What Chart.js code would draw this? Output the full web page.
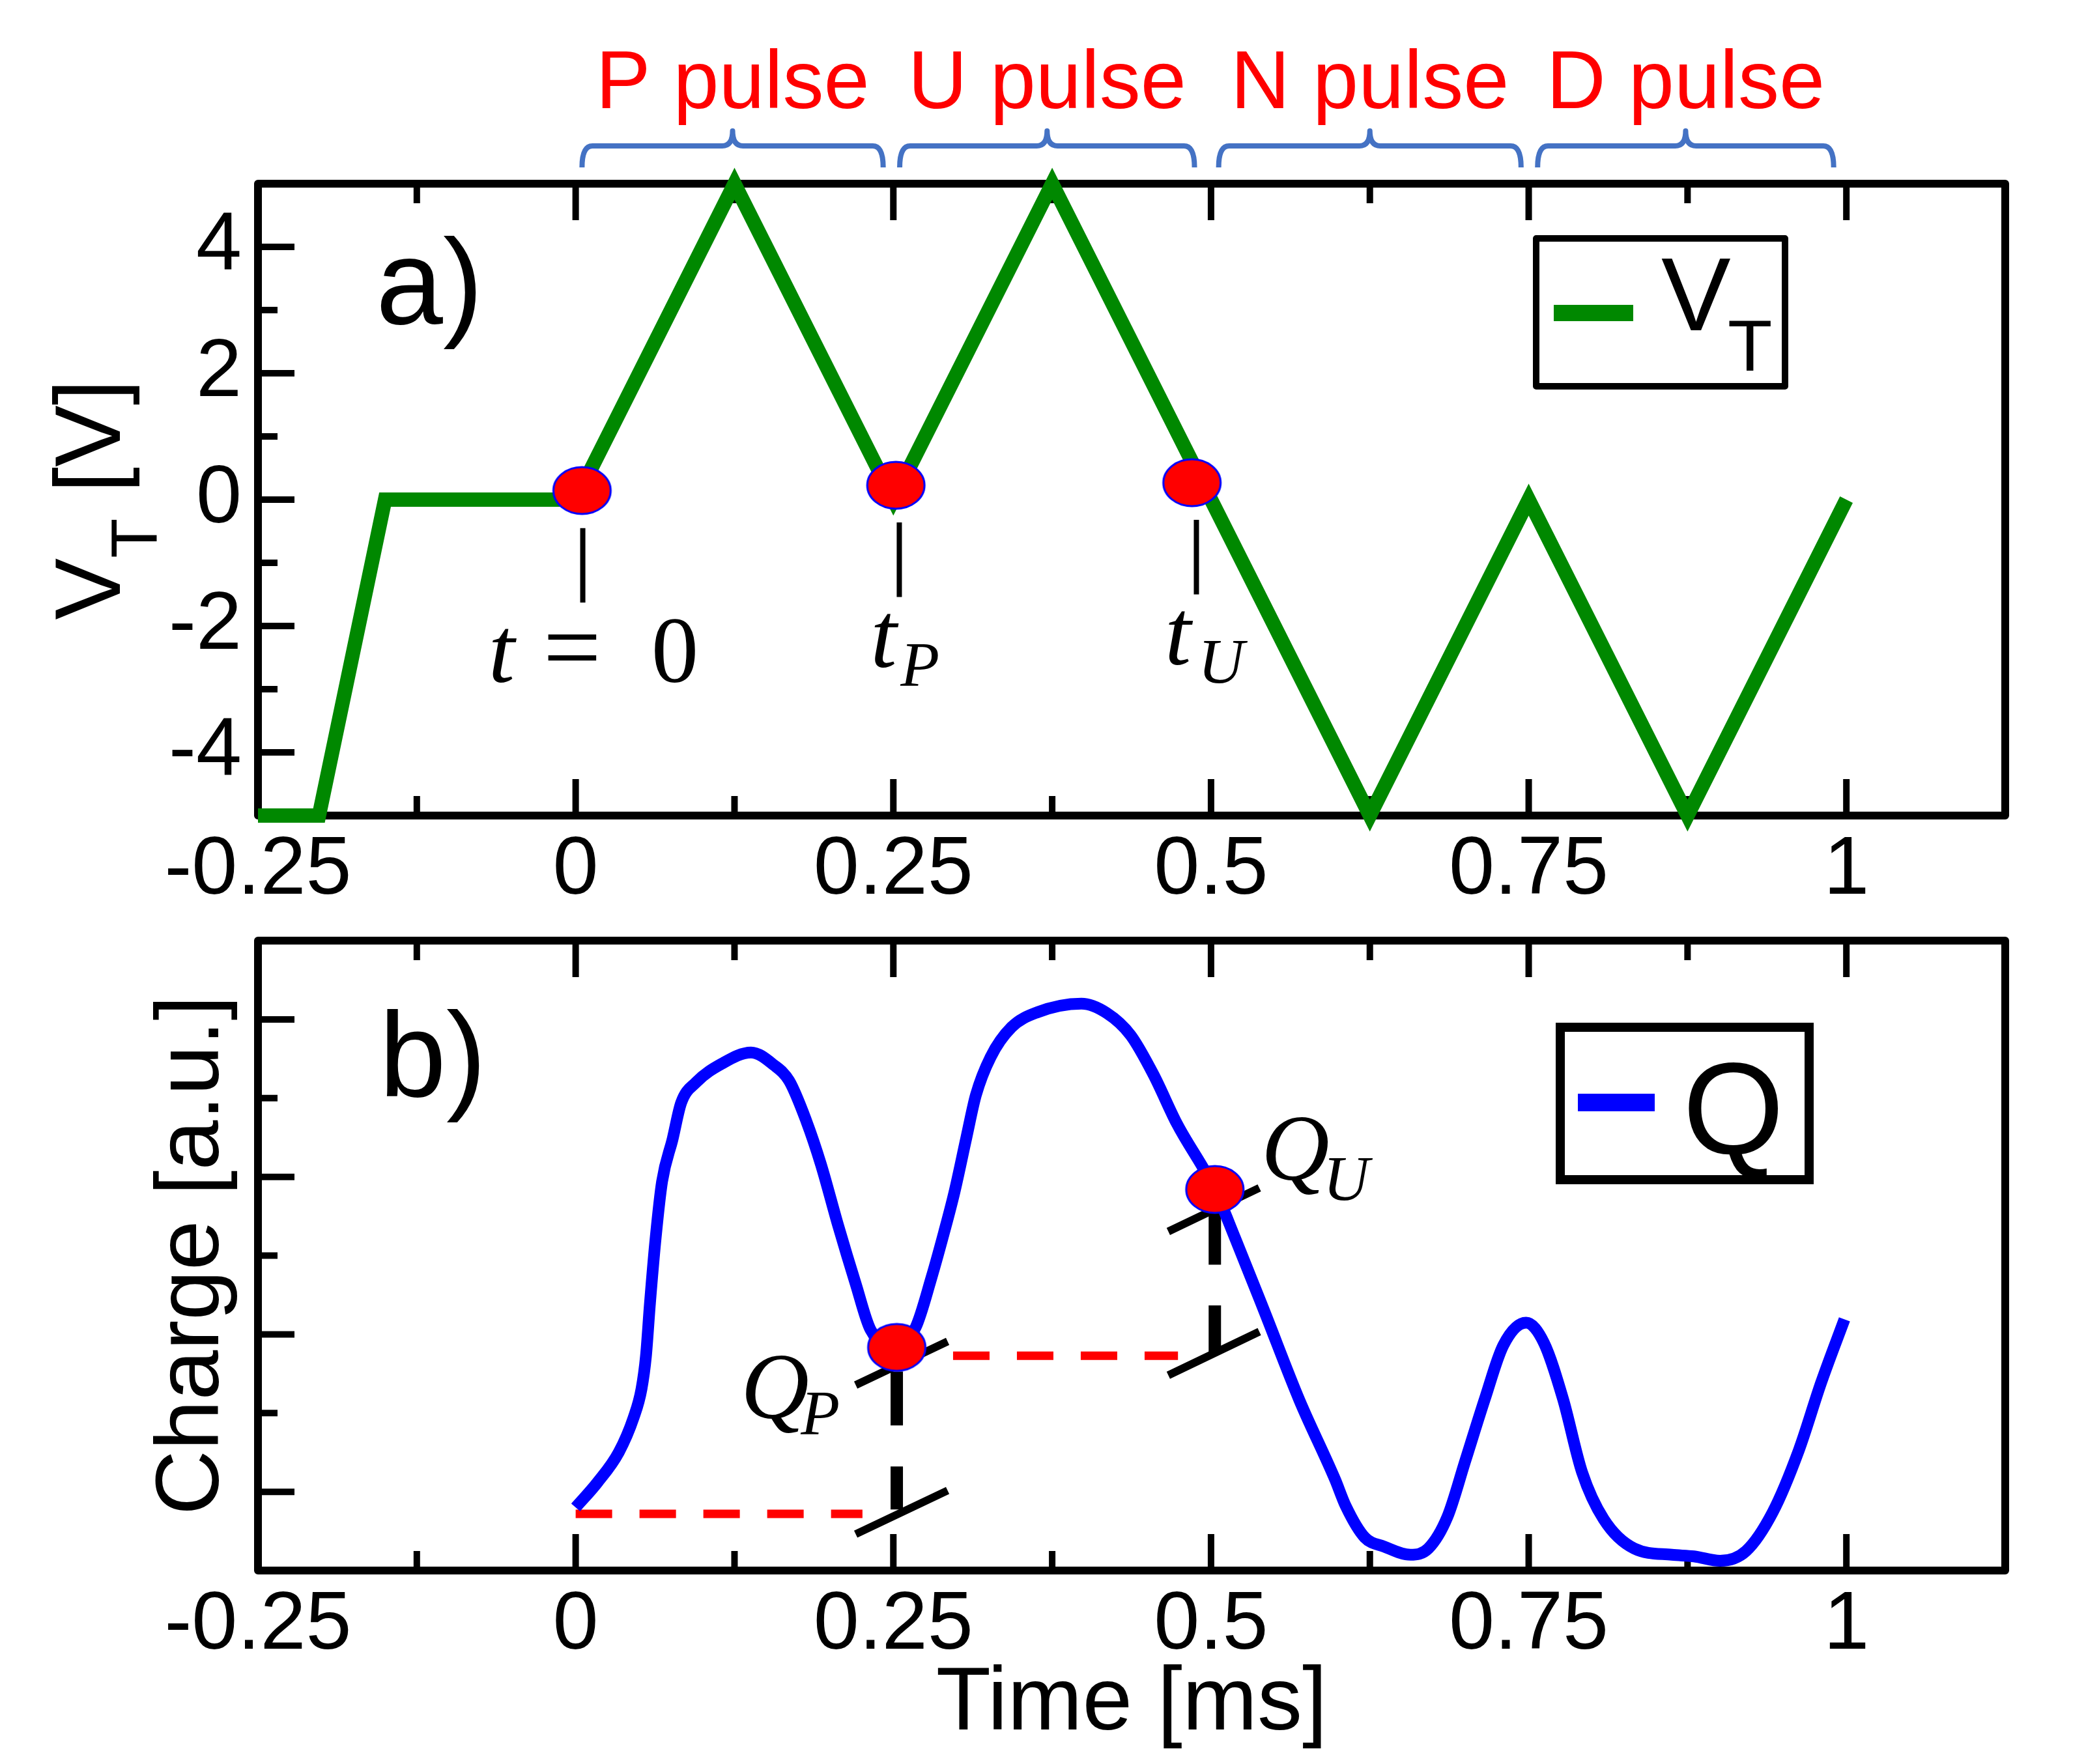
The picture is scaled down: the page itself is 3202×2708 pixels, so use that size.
<!DOCTYPE html>
<html>
<head>
<meta charset="utf-8">
<script src="https://cdn.jsdelivr.net/npm/chart.js@4.4.1/dist/chart.umd.min.js"></script>
<style>
    html, body { margin: 0; padding: 0; background: #fff; }
    #wrap { position: relative; width: 3202px; height: 2708px; }
    canvas { position: absolute; left: 0; }
    #topChart { top: 0; }
    #bottomChart { top: 1400px; }
</style>
</head>
<body>
<div id="wrap">
    <canvas id="topChart" width="3202" height="1400"></canvas>
    <canvas id="bottomChart" width="3202" height="1308"></canvas>
</div>
<script>
// ---- data ----
var vTime = [-0.25, -0.202, -0.150, 0, 0.125, 0.25, 0.375, 0.625, 0.75, 0.875, 1.0];
var vVolt = [-5, -5, 0, 0, 5, 0, 5, -5, 0, -5, 0];

var qTime = [0, 0.017, 0.034, 0.0456, 0.0518, 0.0553, 0.0585, 0.063, 0.068, 0.0763, 0.083, 0.0948,
    0.1153, 0.138, 0.156, 0.168, 0.1815, 0.193, 0.2066, 0.2204, 0.232, 0.2527, 0.2676, 0.280,
    0.290, 0.298, 0.3075, 0.315, 0.3265, 0.343, 0.3634, 0.398, 0.418, 0.4367, 0.4547, 0.473,
    0.503, 0.519, 0.5418, 0.5695, 0.5976, 0.606, 0.621, 0.636, 0.657, 0.671, 0.686, 0.700,
    0.7155, 0.730, 0.748, 0.762, 0.777, 0.792, 0.809, 0.833, 0.8626, 0.880, 0.9006, 0.921,
    0.942, 0.9626, 0.980, 0.9985];
var qCharge = [-0.099, 0.058, 0.252, 0.471, 0.653, 0.86, 1.20, 1.616, 1.97, 2.24, 2.47, 2.60,
    2.72, 2.79, 2.71, 2.61, 2.355, 2.08, 1.69, 1.32, 1.03, 0.917, 1.045, 1.36,
    1.65, 1.90, 2.25, 2.52, 2.76, 2.95, 3.045, 3.10, 3.04, 2.90, 2.65, 2.34,
    1.92, 1.61, 1.15, 0.583, 0.079, -0.09, -0.29, -0.347, -0.40, -0.36, -0.16, 0.194,
    0.59, 0.93, 1.074, 0.946, 0.59, 0.124, -0.174, -0.36, -0.40, -0.41, -0.438, -0.376,
    -0.13, 0.264, 0.69, 1.095];

var vDotTime = [0.005, 0.252, 0.485];
var vDotVolt = [0.144, 0.227, 0.268];
var qDotTime = [0.2527, 0.503];
var qDotCharge = [0.917, 1.92];

// thin markers under the dots of panel a)
var markTime = [0.0056, 0.2547, 0.4885];
var markFrom = [-0.45, -0.36, -0.32];
var markTo = [-1.63, -1.54, -1.50];

// red dashed reference levels of panel b)
var dashStart = [0, 0.297];
var dashEnd = [0.2257, 0.474];
var dashLevel = [-0.14, 0.864];

// black break marks of panel b)
var breakTime = [0.2527, 0.2527, 0.503, 0.503];
var breakFrom = [0.764, 0.161, 1.785, 1.184];
var breakTo = [0.421, -0.112, 1.442, 0.888];
var slashX0 = [0.2204, 0.2204, 0.4664, 0.4664];
var slashX1 = [0.2927, 0.2927, 0.538, 0.538];
var slashY0 = [0.678, -0.269, 1.653, 0.74];
var slashY1 = [0.955, 0.008, 1.93, 1.017];

var xTicks = [-0.25, 0, 0.25, 0.5, 0.75, 1];
var xTickLabels = ['-0.25', '0', '0.25', '0.5', '0.75', '1'];
var xMinor = [-0.125, 0.125, 0.375, 0.625, 0.875];
var vTicks = [-4, -2, 0, 2, 4];
var vTickLabels = ['-4', '-2', '0', '2', '4'];
var vMinor = [-3, -1, 1, 3];
var qTicks = [0, 1, 2, 3];
var qMinor = [0.5, 1.5, 2.5];

var pulseNames = ['P pulse', 'U pulse', 'N pulse', 'D pulse'];
var pulseStart = [0.005, 0.255, 0.506, 0.757];
var pulseEnd = [0.242, 0.487, 0.744, 0.990];

// ---- helpers ----
var SANS = '"Liberation Sans", Arial, Helvetica, sans-serif';
var SERIF = '"Liberation Serif", "Times New Roman", serif';

function xy(xs, ys) {
    return xs.map(function (x, i) { return { x: x, y: ys[i] }; });
}

function segments(x0, y0, x1, y1) {
    var out = [];
    x0.forEach(function (x, i) {
        out.push({ x: x, y: y0[i] });
        out.push({ x: x1[i], y: y1[i] });
        out.push({ x: x1[i], y: null });
    });
    return out;
}

function ellipseDot() {
    var c = document.createElement('canvas');
    c.width = 94;
    c.height = 78;
    var g = c.getContext('2d');
    g.beginPath();
    g.ellipse(47, 39, 44, 36, 0, 0, Math.PI * 2);
    g.fillStyle = '#ff0000';
    g.fill();
    g.lineWidth = 3;
    g.strokeStyle = '#0000ff';
    g.stroke();
    return c;
}
var dotImage = ellipseDot();

function drawFrame(chart, yMajor, yMinor) {
    var ctx = chart.ctx, a = chart.chartArea;
    var xs = chart.scales.x, ys = chart.scales.y;
    ctx.save();
    ctx.strokeStyle = '#000';
    ctx.lineWidth = 10;
    ctx.beginPath();
    function xTick(v, len) {
        var px = xs.getPixelForValue(v);
        ctx.moveTo(px, a.bottom); ctx.lineTo(px, a.bottom - len);
        ctx.moveTo(px, a.top); ctx.lineTo(px, a.top + len);
    }
    function yTick(v, len) {
        var py = ys.getPixelForValue(v);
        ctx.moveTo(a.left, py); ctx.lineTo(a.left + len, py);
    }
    xTicks.forEach(function (v) { xTick(v, 56); });
    xMinor.forEach(function (v) { xTick(v, 30); });
    yMajor.forEach(function (v) { yTick(v, 56); });
    yMinor.forEach(function (v) { yTick(v, 30); });
    ctx.stroke();
    ctx.lineWidth = 12;
    ctx.lineJoin = 'round';
    ctx.strokeRect(a.left, a.top, a.right - a.left, a.bottom - a.top);
    ctx.restore();
}

function text(ctx, str, x, y, font, color) {
    ctx.font = font;
    ctx.fillStyle = color || '#000';
    ctx.fillText(str, x, y);
    return ctx.measureText(str).width;
}

function drawBrace(ctx, x0, x1) {
    var xm = (x0 + x1) / 2, r = 16, yTop = 224, yEnd = 257, yPeak = 201;
    ctx.beginPath();
    ctx.moveTo(x0, yEnd);
    ctx.quadraticCurveTo(x0, yTop, x0 + r, yTop);
    ctx.lineTo(xm - r, yTop);
    ctx.quadraticCurveTo(xm, yTop, xm, yPeak);
    ctx.quadraticCurveTo(xm, yTop, xm + r, yTop);
    ctx.lineTo(x1 - r, yTop);
    ctx.quadraticCurveTo(x1, yTop, x1, yEnd);
    ctx.stroke();
}

function scaleOptions(yMin, yMax, yLabels, yVals, xHeight) {
    return {
        x: {
            type: 'linear', min: -0.25, max: 1.125,
            grid: { display: false, drawTicks: false },
            border: { display: false },
            afterBuildTicks: function (s) { s.ticks = xTicks.map(function (v) { return { value: v }; }); },
            afterFit: function (s) { s.height = xHeight; },
            ticks: {
                autoSkip: false, maxRotation: 0, padding: 10, color: '#000',
                font: { family: SANS, size: 126 },
                callback: function (v) { var i = xTicks.indexOf(v); return i < 0 ? '' : xTickLabels[i]; }
            }
        },
        y: {
            type: 'linear', min: yMin, max: yMax,
            grid: { display: false, drawTicks: false },
            border: { display: false },
            afterBuildTicks: function (s) { s.ticks = yVals.map(function (v) { return { value: v }; }); },
            afterFit: function (s) { s.width = 396; },
            ticks: {
                display: !!yLabels, autoSkip: false, padding: 25, color: '#000',
                font: { family: SANS, size: 126 },
                callback: function (v) { var i = yVals.indexOf(v); return (i < 0 || !yLabels) ? '' : yLabels[i]; }
            }
        }
    };
}

Chart.defaults.font.family = SANS;

// ---- panel a) ----
var topPlugin = {
    id: 'topDecor',
    beforeDatasetsDraw: function (chart) { drawFrame(chart, vTicks, vMinor); },
    afterDraw: function (chart) {
        var ctx = chart.ctx, xs = chart.scales.x, ys = chart.scales.y;
        ctx.save();
        // braces and pulse names
        ctx.strokeStyle = '#4472c4';
        ctx.lineWidth = 8;
        ctx.lineJoin = 'round';
        ctx.textAlign = 'center';
        pulseNames.forEach(function (name, i) {
            var x0 = xs.getPixelForValue(pulseStart[i]), x1 = xs.getPixelForValue(pulseEnd[i]);
            drawBrace(ctx, x0, x1);
            text(ctx, name, (x0 + x1) / 2, 166, '126px ' + SANS, '#ff0000');
        });
        ctx.textAlign = 'left';
        // panel tag
        text(ctx, 'a)', 577, 497, '185px ' + SANS);
        // time labels
        var x0 = xs.getPixelForValue(0), xp = xs.getPixelForValue(0.25), xu = xs.getPixelForValue(0.5);
        text(ctx, 't', x0 - 134, ys.getPixelForValue(-2.887), 'italic 145px ' + SERIF);
        text(ctx, '=', x0 - 50, ys.getPixelForValue(-2.887), '158px ' + SERIF);
        text(ctx, '0', x0 + 116, ys.getPixelForValue(-2.887), '145px ' + SERIF);
        text(ctx, 't', xp - 35, ys.getPixelForValue(-2.65), 'italic 145px ' + SERIF);
        text(ctx, 'P', xp + 11, ys.getPixelForValue(-2.95), 'italic 98px ' + SERIF);
        text(ctx, 't', xu - 71, ys.getPixelForValue(-2.61), 'italic 145px ' + SERIF);
        text(ctx, 'U', xu - 20, ys.getPixelForValue(-2.90), 'italic 98px ' + SERIF);
        // legend
        ctx.lineWidth = 10;
        ctx.strokeStyle = '#000';
        ctx.strokeRect(2358, 366, 382, 227);
        ctx.fillStyle = chart.data.datasets[2].borderColor;
        ctx.fillRect(2385, 468, 122, 25);
        text(ctx, 'V', 2550, 507, '160px ' + SANS);
        text(ctx, 'T', 2652, 569, '112px ' + SANS);
        // y title
        ctx.translate(184, 767);
        ctx.rotate(-Math.PI / 2);
        ctx.font = '142px ' + SANS;
        var wV = ctx.measureText('V').width, wR = ctx.measureText(' [V]').width;
        ctx.font = '100px ' + SANS;
        var wT = ctx.measureText('T').width;
        var start = -(wV + wT + wR) / 2;
        text(ctx, 'V', start, 0, '142px ' + SANS);
        text(ctx, 'T', start + wV, 56, '100px ' + SANS);
        text(ctx, ' [V]', start + wV + wT, 0, '142px ' + SANS);
        ctx.restore();
    }
};

new Chart(document.getElementById('topChart'), {
    type: 'line',
    data: {
        datasets: [
            {
                label: 'dots', data: xy(vDotTime, vDotVolt), showLine: false,
                pointStyle: dotImage, pointRadius: 10, clip: false
            },
            {
                label: 'marks', data: segments(markTime, markFrom, markTime, markTo),
                borderColor: '#000', borderWidth: 8, pointRadius: 0, spanGaps: false
            },
            {
                label: 'V_T', data: xy(vTime, vVolt), borderColor: '#008800', borderWidth: 22,
                pointRadius: 0, tension: 0, clip: false, borderJoinStyle: 'miter'
            }
        ]
    },
    options: {
        responsive: false, animation: false, devicePixelRatio: 1,
        layout: { padding: { left: 0, right: 124, top: 282, bottom: 0 } },
        plugins: { legend: { display: false }, tooltip: { enabled: false } },
        scales: scaleOptions(-5, 5, vTickLabels, vTicks, 148)
    },
    plugins: [topPlugin]
});

// ---- panel b) ----
var bottomPlugin = {
    id: 'bottomDecor',
    beforeDatasetsDraw: function (chart) { drawFrame(chart, qTicks, qMinor); },
    afterDraw: function (chart) {
        var ctx = chart.ctx, xs = chart.scales.x, ys = chart.scales.y;
        var off = 1400;
        ctx.save();
        text(ctx, 'b)', 582, 1684 - off, '185px ' + SANS);
        var xp = xs.getPixelForValue(0.25), xu = xs.getPixelForValue(0.5);
        text(ctx, 'Q', xp - 234, ys.getPixelForValue(0.47), 'italic 145px ' + SERIF);
        text(ctx, 'P', xp - 142, ys.getPixelForValue(0.364), 'italic 98px ' + SERIF);
        text(ctx, 'Q', xu + 77, ys.getPixelForValue(1.98), 'italic 145px ' + SERIF);
        text(ctx, 'U', xu + 172, ys.getPixelForValue(1.855), 'italic 98px ' + SERIF);
        // legend
        ctx.lineWidth = 14;
        ctx.strokeStyle = '#000';
        ctx.strokeRect(2395, 1577 - off, 382, 234);
        ctx.fillStyle = chart.data.datasets[1].borderColor;
        ctx.fillRect(2422, 1679 - off, 118, 27);
        text(ctx, 'Q', 2583, 1771 - off, '200px ' + SANS);
        // x title
        ctx.textAlign = 'center';
        text(ctx, 'Time [ms]', 1737, 2655 - off, '138px ' + SANS);
        // y title
        ctx.translate(335, 1927 - off);
        ctx.rotate(-Math.PI / 2);
        text(ctx, 'Charge [a.u.]', 0, 0, '138px ' + SANS);
        ctx.restore();
    }
};

new Chart(document.getElementById('bottomChart'), {
    type: 'line',
    data: {
        datasets: [
            {
                label: 'dots', data: xy(qDotTime, qDotCharge), showLine: false,
                pointStyle: dotImage, pointRadius: 10, clip: false
            },
            {
                label: 'Q', data: xy(qTime, qCharge), borderColor: '#0000ff', borderWidth: 18,
                pointRadius: 0, cubicInterpolationMode: 'monotone', clip: false
            },
            {
                label: 'breaks', data: segments(breakTime, breakFrom, breakTime, breakTo),
                borderColor: '#000', borderWidth: 19, pointRadius: 0, borderCapStyle: 'butt'
            },
            {
                label: 'slashes', data: segments(slashX0, slashY0, slashX1, slashY1),
                borderColor: '#000', borderWidth: 12, pointRadius: 0
            },
            {
                label: 'levels', data: segments(dashStart, dashLevel, dashEnd, dashLevel),
                borderColor: '#ff0000', borderWidth: 13, borderDash: [56, 42], pointRadius: 0
            }
        ]
    },
    options: {
        responsive: false, animation: false, devicePixelRatio: 1,
        layout: { padding: { left: 0, right: 124, top: 44, bottom: 0 } },
        plugins: { legend: { display: false }, tooltip: { enabled: false } },
        scales: scaleOptions(-0.5, 3.5, null, qTicks, 297)
    },
    plugins: [bottomPlugin]
});
</script>
</body>
</html>
